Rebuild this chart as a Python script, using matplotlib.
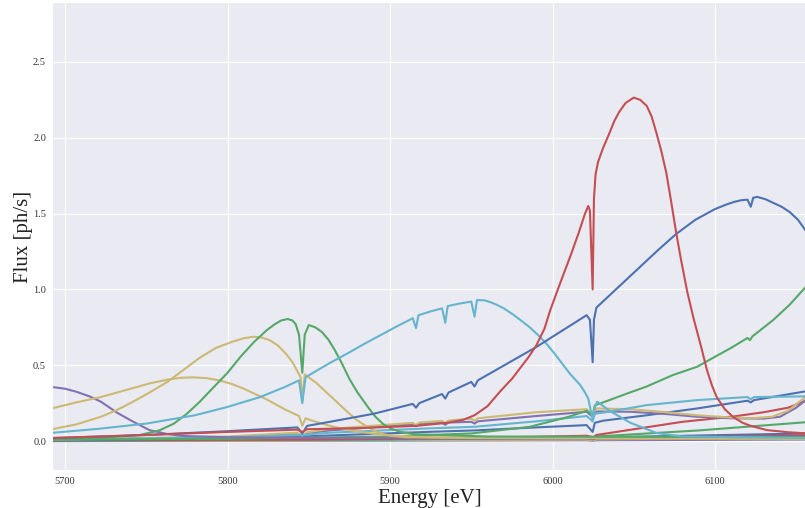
import matplotlib
matplotlib.use("Agg")
import matplotlib.pyplot as plt

plt.style.use("seaborn-v0_8-darkgrid")
plt.rcParams["font.family"] = ["Liberation Serif", "DejaVu Serif"]

# seaborn "deep" palette
blue, green, red, purple, yellow, cyan = ("#4C72B0", "#55A868", "#C44E52",
                                           "#8172B2", "#CCB974", "#64B5CD")

# big red peak
e_r1 = [5693, 5750, 5800, 5843, 5846, 5849, 5880, 5916, 5935, 5945, 5952, 5960,
        5968, 5975, 5980, 5985, 5990, 5995, 5998.5, 6005, 6011, 6016, 6020, 6022,
        6023, 6024.7, 6025.5, 6026.5, 6028, 6031, 6035, 6038, 6041, 6045, 6050,
        6054, 6058, 6061, 6064, 6067, 6070, 6073, 6076, 6079, 6083, 6087, 6091,
        6095, 6098, 6101, 6106, 6111, 6117, 6122, 6132, 6145, 6157]
f_r1 = [0.02, 0.04, 0.06, 0.075, 0.06, 0.078, 0.085, 0.10, 0.12, 0.14, 0.17, 0.23,
        0.33, 0.41, 0.48, 0.55, 0.63, 0.74, 0.86, 1.05, 1.22, 1.37, 1.50, 1.55,
        1.52, 1.0, 1.6, 1.76, 1.84, 1.93, 2.03, 2.11, 2.17, 2.23, 2.265,
        2.25, 2.21, 2.14, 2.03, 1.91, 1.77, 1.58, 1.38, 1.20, 0.98, 0.80, 0.64,
        0.47, 0.37, 0.29, 0.21, 0.16, 0.12, 0.10, 0.072, 0.058, 0.05]

# big blue ramp
e_b1 = [5693, 5750, 5800, 5843, 5846, 5849, 5863, 5890, 5914, 5916, 5918, 5932,
        5934, 5936, 5950, 5952, 5954, 5990, 6021, 6023, 6024.7, 6025.5, 6027,
        6035, 6045, 6054, 6065, 6076, 6088, 6100, 6107, 6112, 6116, 6120, 6122,
        6123.5, 6126, 6131, 6136, 6141, 6146, 6151, 6157]
f_b1 = [0.02, 0.04, 0.065, 0.09, 0.05, 0.10, 0.127, 0.18, 0.245, 0.22, 0.25, 0.31,
        0.28, 0.32, 0.39, 0.36, 0.40, 0.62, 0.83, 0.80, 0.52, 0.80, 0.88,
        0.96, 1.06, 1.15, 1.26, 1.365, 1.46, 1.53, 1.56, 1.578, 1.588, 1.592, 1.545,
        1.605, 1.61, 1.595, 1.57, 1.545, 1.51, 1.46, 1.37]

# big cyan hump
e_c1 = [5693, 5720, 5750, 5780, 5800, 5820, 5835, 5844, 5846, 5848, 5851, 5863,
        5875, 5884, 5904, 5914, 5916, 5917.5, 5925, 5932, 5934, 5935.5, 5942, 5950,
        5952, 5953.5, 5958, 5962, 5966, 5970, 5975, 5980, 5986, 5991, 5996, 6001,
        6006, 6011, 6017, 6020, 6022, 6024.7, 6026, 6027.5, 6035, 6048, 6064,
        6080, 6157]
f_c1 = [0.055, 0.08, 0.115, 0.17, 0.225, 0.29, 0.355, 0.40, 0.25, 0.42, 0.44, 0.515,
        0.585, 0.64, 0.755, 0.81, 0.745, 0.83, 0.855, 0.875, 0.78, 0.89, 0.905, 0.92,
        0.82, 0.93, 0.928, 0.915, 0.897, 0.875, 0.84, 0.80, 0.75, 0.70, 0.645, 0.58,
        0.51, 0.44, 0.37, 0.32, 0.28, 0.14, 0.22, 0.26, 0.20, 0.12, 0.053,
        0.03, 0.02]

# green peak near 5840
e_g1 = [5693, 5720, 5746, 5758, 5767, 5775, 5783, 5791, 5800, 5808, 5816, 5824,
        5829, 5833, 5837, 5840, 5842, 5844, 5846, 5847.5, 5850, 5854, 5858, 5862,
        5866, 5870, 5875, 5880, 5886, 5891, 5896, 5901, 5906, 5915, 5960, 6157]
f_g1 = [0.015, 0.02, 0.04, 0.07, 0.115, 0.18, 0.26, 0.35, 0.45, 0.556, 0.65, 0.73,
        0.77, 0.795, 0.805, 0.795, 0.77, 0.70, 0.45, 0.70, 0.765, 0.75, 0.72, 0.67,
        0.60, 0.52, 0.41, 0.32, 0.23, 0.16, 0.11, 0.08, 0.062, 0.045, 0.03, 0.025]

# yellow peak near 5815
e_y1 = [5693, 5707, 5722, 5732, 5742, 5752, 5763, 5773, 5783, 5793, 5803, 5810,
        5816, 5821, 5826, 5831, 5836, 5840, 5843, 5845, 5846, 5847.5, 5850, 5855,
        5860, 5865, 5870, 5875, 5880, 5886, 5891, 5896, 5903, 5910, 5950, 6157]
f_y1 = [0.08, 0.11, 0.16, 0.205, 0.26, 0.32, 0.39, 0.47, 0.55, 0.615, 0.655, 0.678,
        0.688, 0.683, 0.665, 0.63, 0.575, 0.52, 0.46, 0.42, 0.26, 0.44, 0.42, 0.38,
        0.33, 0.28, 0.23, 0.18, 0.135, 0.094, 0.065, 0.045, 0.032, 0.025, 0.02, 0.015]

# yellow peak near 5780
e_y2 = [5693, 5707, 5722, 5732, 5742, 5752, 5763, 5771, 5779, 5787, 5795, 5803,
        5810, 5817, 5824, 5830, 5836, 5840, 5844, 5846, 5848, 5852, 5858, 5865,
        5872, 5880, 5890, 5900, 5915, 5930, 6157]
f_y2 = [0.218, 0.255, 0.29, 0.32, 0.35, 0.38, 0.405, 0.417, 0.42, 0.415, 0.40, 0.375,
        0.345, 0.31, 0.275, 0.24, 0.205, 0.185, 0.165, 0.10, 0.15, 0.135, 0.115, 0.095,
        0.078, 0.063, 0.048, 0.037, 0.028, 0.024, 0.015]

# purple falling at the left edge
e_p1 = [5693, 5700, 5707, 5715, 5722, 5732, 5742, 5752, 5763, 5773, 5800, 5846, 6157]
f_p1 = [0.355, 0.345, 0.325, 0.295, 0.26, 0.187, 0.127, 0.072, 0.046, 0.033, 0.025,
        0.02, 0.015]

# green rising at the right edge
e_g2 = [5693, 5800, 5900, 5950, 5986, 6010, 6021, 6024.7, 6026, 6035, 6045, 6058,
        6074, 6089, 6100, 6110, 6120, 6121.5, 6123, 6136, 6146, 6157]
f_g2 = [0.01, 0.015, 0.03, 0.05, 0.094, 0.16, 0.20, 0.17, 0.235, 0.27, 0.31, 0.36,
        0.435, 0.49, 0.556, 0.615, 0.68, 0.665, 0.69, 0.80, 0.90, 1.03]

# low cyan
e_c3 = [5693, 5800, 5846, 5863, 5925, 5952, 5990, 6021, 6024.7, 6026, 6031, 6058,
        6089, 6120, 6122, 6124, 6157]
f_c3 = [0.01, 0.025, 0.04, 0.055, 0.084, 0.094, 0.13, 0.165, 0.13, 0.18, 0.187, 0.237,
        0.27, 0.29, 0.275, 0.29, 0.295]

# low yellow
e_y3 = [5693, 5800, 5843, 5846, 5849, 5863, 5914, 5916, 5918, 5932, 5934, 5936,
        5950, 5952, 5954, 5990, 6021, 6024.7, 6027, 6048, 6070, 6089, 6110, 6122,
        6135, 6145, 6152, 6157]
f_y3 = [0.01, 0.03, 0.055, 0.035, 0.058, 0.08, 0.12, 0.105, 0.122, 0.133, 0.118, 0.135,
        0.148, 0.133, 0.15, 0.19, 0.21, 0.17, 0.215, 0.21, 0.19, 0.17, 0.155, 0.15,
        0.16, 0.20, 0.26, 0.30]

# low purple
e_p2 = [5693, 5800, 5843, 5846, 5849, 5863, 5914, 5916, 5918, 5932, 5934, 5936,
        5950, 5952, 5954, 5990, 6021, 6024.7, 6027, 6048, 6070, 6089, 6110, 6130,
        6140, 6150, 6157]
f_p2 = [0.008, 0.025, 0.05, 0.035, 0.052, 0.07, 0.11, 0.097, 0.112, 0.12, 0.107, 0.122,
        0.127, 0.115, 0.13, 0.165, 0.193, 0.16, 0.195, 0.193, 0.178, 0.16, 0.15, 0.148,
        0.16, 0.22, 0.28]

# low blue
e_b2 = [5693, 5800, 5846, 5925, 5952, 5990, 6021, 6024.7, 6026, 6031, 6058, 6089,
        6120, 6122, 6124, 6157]
f_b2 = [0.005, 0.02, 0.03, 0.061, 0.07, 0.09, 0.105, 0.06, 0.12, 0.134, 0.17, 0.215,
        0.266, 0.255, 0.27, 0.33]

# low red
e_r2 = [5693, 5850, 5950, 6021, 6025, 6027, 6080, 6110, 6130, 6145, 6157]
f_r2 = [0.005, 0.01, 0.02, 0.035, 0.025, 0.04, 0.127, 0.16, 0.19, 0.22, 0.27]

# low green
e_g3 = [5693, 5900, 6021, 6025, 6027, 6090, 6157]
f_g3 = [0.003, 0.01, 0.028, 0.02, 0.03, 0.07, 0.125]

# lines near zero
e_low = [5693, 5850, 6021, 6025, 6027, 6157]
f_b3 = [0.002, 0.01, 0.022, 0.015, 0.024, 0.05]
f_c4 = [0.001, 0.008, 0.016, 0.01, 0.017, 0.04]
f_y4 = [0.0, 0.004, 0.01, 0.005, 0.011, 0.022]
f_p3 = [0.0, 0.002, 0.005, 0.002, 0.005, 0.01]
f_r3 = [0.012, 0.015, 0.02, 0.012, 0.021, 0.035]

curves = [
    (e_low, f_p3, purple), (e_low, f_y4, yellow), (e_low, f_c4, cyan),
    (e_low, f_b3, blue), (e_low, f_r3, red), (e_g3, f_g3, green),
    (e_r2, f_r2, red), (e_b2, f_b2, blue), (e_p2, f_p2, purple),
    (e_y3, f_y3, yellow), (e_c3, f_c3, cyan), (e_g2, f_g2, green),
    (e_p1, f_p1, purple), (e_y2, f_y2, yellow), (e_y1, f_y1, yellow),
    (e_g1, f_g1, green), (e_c1, f_c1, cyan), (e_b1, f_b1, blue),
    (e_r1, f_r1, red),
]

fig = plt.figure(figsize=(8.05, 5.08), dpi=100)
ax = fig.add_axes([53 / 805, 38 / 508, 754 / 805, 467 / 508])

for e, f, c in curves:
    ax.plot(e, f, color=c, lw=1.5)

ax.set_xlim(5692.6, 6156.6)
ax.set_ylim(-0.191, 2.889)
ax.set_xticks([5700, 5800, 5900, 6000, 6100])
ax.set_yticks([0.0, 0.5, 1.0, 1.5, 2.0, 2.5])
ax.tick_params(labelsize=7.5, labelcolor="#333333", pad=5)
ax.set_xlabel("Energy [eV]", fontsize=15, labelpad=2, color="#222222")
ax.set_ylabel("Flux [ph/s]", fontsize=15, labelpad=0, color="#222222")

fig.savefig("out.png", dpi=100)
